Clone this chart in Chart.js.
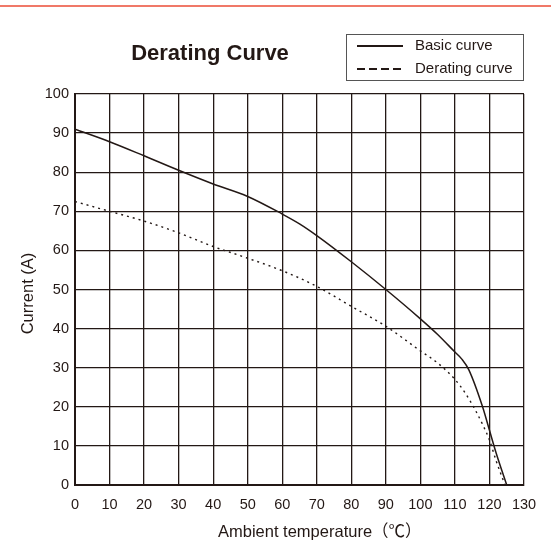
<!DOCTYPE html>
<html>
<head>
<meta charset="utf-8">
<script src="https://cdn.jsdelivr.net/npm/chart.js@4.4.1/dist/chart.umd.min.js"></script>
<style>
  body { margin: 0; background: #fff; }
  canvas { display: block; }
</style>
</head>
<body>
<canvas id="chart" width="551" height="542"></canvas>
<script>
// Data
const titleText = 'Derating Curve';
const xTitle = 'Ambient temperature（℃）';
const yTitle = 'Current (A)';

const basicTemp = [0, 10, 20, 30, 40, 50, 60, 65, 70, 80, 90, 100, 105, 110, 112, 114, 118, 120, 122, 125];
const basicCurrent = [91, 87.8, 84.2, 80.5, 77, 73.8, 69.3, 66.8, 63.8, 57.1, 50, 42.5, 38.5, 34, 32.2, 29.5, 20, 14, 8, 0];

const deratingTemp = [0, 10, 20, 30, 40, 50, 60, 70, 80, 90, 100, 105, 110, 113, 116, 118, 120, 122, 124.5];
const deratingCurrent = [72.5, 70, 67.5, 64.5, 61, 58, 54.8, 50.8, 45.7, 40.6, 34.3, 31.2, 27, 23.5, 19, 15.5, 11.5, 6, 0];

const ink = '#231815';
const fontFamily = '"Liberation Sans", Arial, "Noto Sans CJK JP", sans-serif';

function toPoints(xs, ys) {
    return xs.map((x, i) => ({ x, y: ys[i] }));
}

// title, axis titles, legend box and the red rule at the top are drawn by hand
const decorPlugin = {
    id: 'decor',
    beforeDraw(chart) {
        const ctx = chart.ctx;
        ctx.save();
        ctx.fillStyle = '#fff';
        ctx.fillRect(0, 0, chart.width, chart.height);
        ctx.strokeStyle = '#f07868';
        ctx.lineWidth = 2;
        ctx.beginPath();
        ctx.moveTo(0, 6);
        ctx.lineTo(chart.width, 6);
        ctx.stroke();
        ctx.restore();
    },
    afterDraw(chart) {
        const ctx = chart.ctx;
        ctx.save();
        ctx.fillStyle = ink;
        ctx.font = 'bold 22px ' + fontFamily;
        ctx.textAlign = 'center';
        ctx.textBaseline = 'middle';
        ctx.fillText(titleText, 210, 54);

        // axis titles
        ctx.font = '16.5px ' + fontFamily;
        ctx.textBaseline = 'alphabetic';
        ctx.textAlign = 'left';
        ctx.fillText(xTitle, 218, 537);
        ctx.save();
        ctx.translate(33, 293.5);
        ctx.rotate(-Math.PI / 2);
        ctx.textAlign = 'center';
        ctx.fillText(yTitle, 0, 0);
        ctx.restore();

        // legend box
        ctx.strokeStyle = '#555';
        ctx.lineWidth = 1;
        ctx.strokeRect(346.5, 34.5, 177, 46);
        ctx.font = '15px ' + fontFamily;
        ctx.textAlign = 'left';
        ctx.textBaseline = 'middle';
        chart.data.datasets.forEach((ds, i) => {
            const y = 46 + i * 23;
            ctx.strokeStyle = ink;
            ctx.lineWidth = 2;
            ctx.setLineDash(i === 0 ? [] : [8, 4]);
            ctx.beginPath();
            ctx.moveTo(357, y);
            ctx.lineTo(403, y);
            ctx.stroke();
            ctx.setLineDash([]);
            ctx.fillText(ds.label, 415, y);
        });
        ctx.restore();
    }
};

new Chart(document.getElementById('chart'), {
    type: 'line',
    data: {
        datasets: [
            {
                label: 'Basic curve',
                data: toPoints(basicTemp, basicCurrent),
                borderColor: ink,
                borderWidth: 1.5,
                pointRadius: 0,
                cubicInterpolationMode: 'monotone'
            },
            {
                label: 'Derating curve',
                data: toPoints(deratingTemp, deratingCurrent),
                borderColor: ink,
                borderWidth: 1.4,
                borderDash: [2, 4],
                pointRadius: 0,
                cubicInterpolationMode: 'monotone'
            }
        ]
    },
    options: {
        responsive: false,
        animation: false,
        devicePixelRatio: 1,
        layout: { padding: { top: 94, right: 27, left: 0, bottom: 0 } },
        plugins: {
            legend: { display: false },
            title: { display: false },
            tooltip: { enabled: false }
        },
        scales: {
            x: {
                type: 'linear',
                min: 0,
                max: 130,
                afterFit(scale) { scale.height = 57; },
                ticks: { stepSize: 10, color: ink, padding: 11, font: { size: 14.5, family: fontFamily } },
                grid: { color: ink, lineWidth: 1.3, drawTicks: false },
                border: { color: ink, width: 2 }
            },
            y: {
                min: 0,
                max: 100,
                afterFit(scale) { scale.width = 75; },
                ticks: { stepSize: 10, color: ink, padding: 6, font: { size: 14.5, family: fontFamily } },
                grid: { color: ink, lineWidth: 1.3, drawTicks: false },
                border: { color: ink, width: 2 }
            }
        }
    },
    plugins: [decorPlugin]
});
</script>
</body>
</html>
